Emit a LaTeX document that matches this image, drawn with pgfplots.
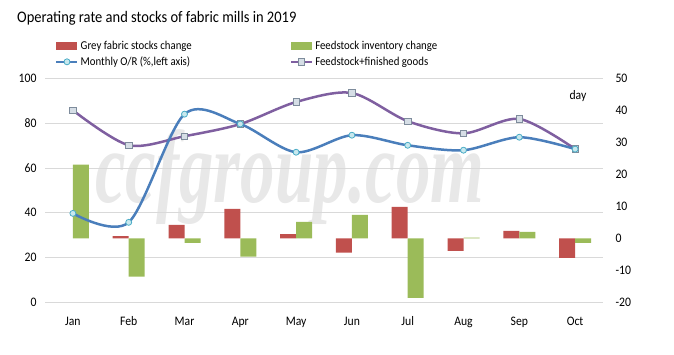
\documentclass[border=0pt]{standalone}
\usepackage{graphicx}
\usepackage{pgfplots}
\pgfplotsset{compat=1.18}
\usepackage{fontspec}
\setmainfont[FakeStretch=0.9]{Carlito}
\newfontfamily\wmfont{Liberation Serif}
\definecolor{cred}{HTML}{C0504D}
\definecolor{cgreen}{HTML}{9BBB59}
\definecolor{cblue}{HTML}{4A7EBB}
\definecolor{cpurple}{HTML}{7F5FA0}
\definecolor{mcfill}{HTML}{C8E8EE}
\definecolor{mcdraw}{HTML}{4AACC6}
\definecolor{msfill}{HTML}{D6DEE6}
\definecolor{msdraw}{HTML}{7E8C9C}
\definecolor{gridc}{HTML}{D9D9D9}
\definecolor{wmc}{HTML}{E8E8E8}
\pgfplotsset{
  base/.style={at={(45pt,51.7pt)}, anchor=south west, scale only axis,
    width=558pt, height=224pt, xmin=-0.5, xmax=9.5,
    /pgf/number format/assume math mode=true,
    tick label style={font=\fontsize{13}{15}\selectfont},
    major tick length=0pt, axis line style={draw=none}},
  barleg/.style={legend image code/.code={\fill[##1] (0pt,-4pt) rectangle (21pt,4pt);}},
  lineleg/.style={legend image code/.code={\draw[mark repeat=2, mark phase=2, ##1] plot coordinates {(0pt,0pt) (10.5pt,0pt) (21pt,0pt)};}}
}
\begin{document}
\begin{tikzpicture}
\useasboundingbox (0pt,0pt) rectangle (674pt,354pt);
\node[anchor=west, inner sep=0pt, font=\fontsize{16.1}{18}\selectfont] at (17pt,336pt) {Operating rate and stocks of fabric mills in 2019};
\node[anchor=base west, inner sep=0pt, text=wmc, font=\wmfont\bfseries\itshape\fontsize{69}{69}\selectfont] at (95pt,152pt) {\scalebox{1}[1.5]{ccfgroup.com}};
% left axis with grid and x labels
\begin{axis}[base, ymin=0, ymax=100, ytick={0,20,...,100},
  ymajorgrids, grid style={gridc, line width=0.8pt},
  xtick={0,...,9}, xticklabels={Jan,Feb,Mar,Apr,May,Jun,Jul,Aug,Sep,Oct},
  xticklabel style={yshift=-11pt}, yticklabel style={xshift=-5pt}]
\end{axis}
% right axis: bars and stocks line
\begin{axis}[base, ymin=-20, ymax=50, ytick={-20,-10,...,50},
  axis y line*=right, axis x line=none, yticklabel style={xshift=9pt, anchor=west},
  legend columns=2,
  legend style={at={(0.018,1.177)}, anchor=north west, draw=none, fill=none,
    font=\fontsize{12}{14}\selectfont, row sep=2pt, inner sep=0pt,
    /tikz/every odd column/.append style={column sep=0pt},
    /tikz/column 2/.append style={column sep=96pt}},
  legend cell align=left]
\addplot[ybar, bar width=16pt, bar shift=-8pt, draw=none, fill=cred, barleg] coordinates {(1,0.7) (2,4.2) (3,9.2) (4,1.3) (5,-4.5) (6,9.8) (7,-3.9) (8,2.3) (9,-6.1)};
\addlegendentry{Grey fabric stocks change}
\addplot[ybar, bar width=16pt, bar shift=8pt, draw=none, fill=cgreen, barleg] coordinates {(0,23) (1,-12) (2,-1.4) (3,-5.7) (4,5.1) (5,7.3) (6,-18.6) (7,0.2) (8,2.0) (9,-1.4)};
\addlegendentry{Feedstock inventory change}
\addlegendimage{cblue, line width=2.5pt, mark=*, mark size=3pt, mark options={fill=mcfill, draw=mcdraw, line width=0.8pt}, lineleg}
\addlegendentry{Monthly O/R (\%,left axis)}
\addplot[cpurple, line width=2.5pt, smooth, tension=0.5, mark=square*, mark size=3.2pt, mark options={fill=msfill, draw=msdraw, line width=0.8pt}, lineleg]
  coordinates {(0,40.0) (1,29.1) (2,31.9) (3,35.7) (4,42.6) (5,45.4) (6,36.6) (7,32.8) (8,37.3) (9,27.9)};
\addlegendentry{Feedstock+finished goods}
\end{axis}
% hidden left axis for operating rate line
\begin{axis}[base, ymin=0, ymax=100, hide axis]
\addplot[cblue, line width=2.5pt, smooth, tension=0.5, mark=*, mark size=3pt, mark options={fill=mcfill, draw=mcdraw, line width=0.8pt}]
  coordinates {(0,39.7) (1,35.7) (2,84.0) (3,79.6) (4,67.0) (5,74.6) (6,70.1) (7,67.9) (8,73.7) (9,68.4)};
\end{axis}
\node[font=\fontsize{13}{15}\selectfont] at (578pt,258pt) {day};
\end{tikzpicture}
\end{document}
